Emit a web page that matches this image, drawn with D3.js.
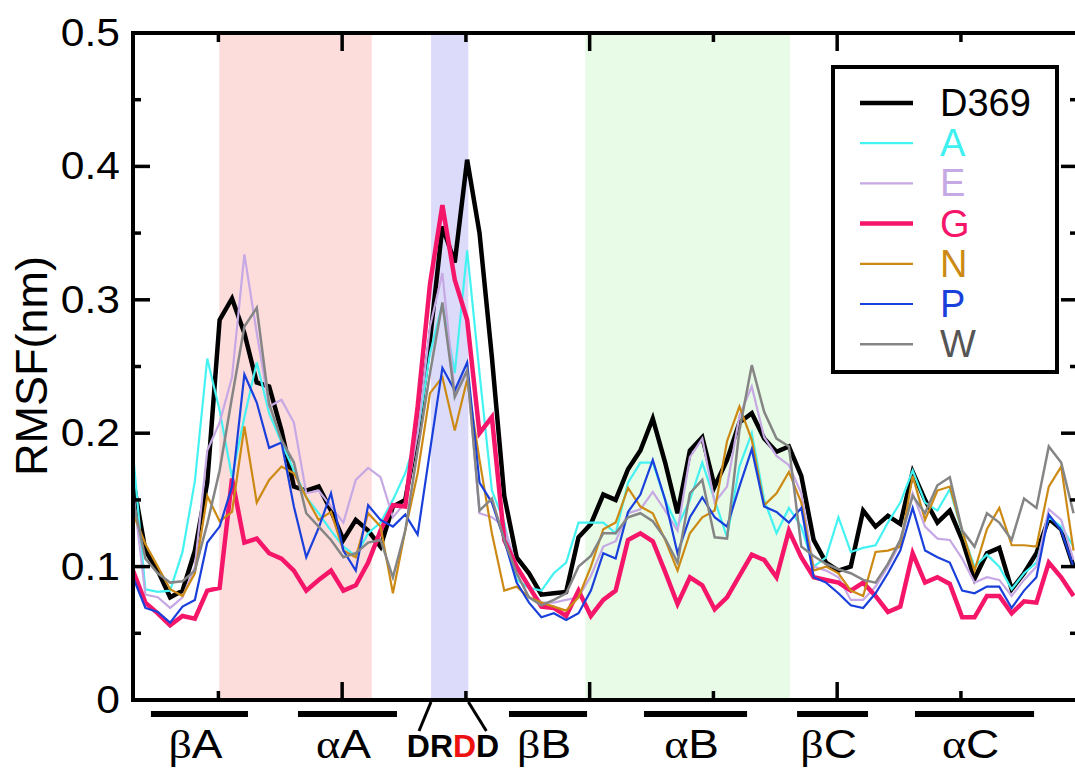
<!DOCTYPE html>
<html>
<head>
  <meta charset="utf-8">
  <title>RMSF per residue</title>
  <style>
    body { margin: 0; background: white; font-family: "Liberation Sans", Arial, sans-serif; }
    #chart { width: 1075px; height: 769px; }
    .series { fill: none; stroke-linejoin: miter; }
    .axis-line { stroke: black; stroke-width: 4; fill: none; }
    .tick-mark { stroke: black; stroke-width: 3.5; }
    .tick-label { font-size: 38px; fill: black; }
    .ss-bar { stroke: black; stroke-width: 6; }
    .ss-label { font-size: 40px; fill: black; }
    .greek { font-family: "Liberation Serif", serif; }
    .legend-text { font-size: 38px; }
  </style>
</head>
<body>
<div id="chart"></div>
<script src="https://d3js.org/d3.v7.min.js"></script>
<script>

// ####### DATA (RMSF in nm, one value per residue) #######
var seriesNames = ["D369", "A", "E", "G", "N", "P", "W"]

var rmsfD369 = [0.165, 0.112, 0.097, 0.077, 0.082, 0.112, 0.163, 0.285, 0.301, 0.275,
  0.238, 0.235, 0.202, 0.16, 0.157, 0.16, 0.142, 0.12, 0.135, 0.127,
  0.115, 0.145, 0.15, 0.2, 0.27, 0.355, 0.328, 0.405, 0.35, 0.257,
  0.153, 0.107, 0.095, 0.079, 0.08, 0.081, 0.122, 0.132, 0.154, 0.15,
  0.173, 0.187, 0.211, 0.178, 0.14, 0.187, 0.197, 0.16, 0.18, 0.208,
  0.215, 0.196, 0.186, 0.19, 0.168, 0.12, 0.103, 0.097, 0.1, 0.142,
  0.13, 0.138, 0.132, 0.171, 0.15, 0.133, 0.142, 0.12, 0.091, 0.11,
  0.114, 0.083, 0.095, 0.11, 0.136, 0.128, 0.1]

var rmsfA = [0.185, 0.083, 0.081, 0.082, 0.111, 0.164, 0.256, 0.217, 0.167, 0.212,
  0.253, 0.215, 0.193, 0.172, 0.152, 0.14, 0.127, 0.115, 0.108, 0.125,
  0.133, 0.15, 0.17, 0.2, 0.26, 0.297, 0.245, 0.337, 0.245, 0.157,
  0.133, 0.09, 0.084, 0.082, 0.095, 0.103, 0.133, 0.133, 0.133, 0.125,
  0.163, 0.178, 0.178, 0.15, 0.13, 0.15, 0.178, 0.15, 0.122, 0.175,
  0.2, 0.15, 0.125, 0.144, 0.13, 0.1, 0.107, 0.137, 0.111, 0.114,
  0.116, 0.133, 0.148, 0.172, 0.148, 0.142, 0.158, 0.126, 0.1, 0.109,
  0.1, 0.083, 0.095, 0.103, 0.137, 0.13, 0.115]

var rmsfE = [0.157, 0.079, 0.077, 0.069, 0.077, 0.1, 0.187, 0.208, 0.242, 0.334,
  0.275, 0.22, 0.225, 0.208, 0.155, 0.157, 0.145, 0.133, 0.165, 0.174,
  0.167, 0.137, 0.148, 0.2, 0.28, 0.32, 0.23, 0.247, 0.14, 0.137,
  0.13, 0.1, 0.085, 0.073, 0.073, 0.075, 0.077, 0.093, 0.115, 0.119,
  0.14, 0.143, 0.156, 0.142, 0.127, 0.182, 0.196, 0.148, 0.16, 0.213,
  0.235, 0.197, 0.183, 0.176, 0.155, 0.1, 0.097, 0.092, 0.075, 0.075,
  0.085, 0.1, 0.118, 0.155, 0.13, 0.121, 0.12, 0.106, 0.088, 0.092,
  0.09, 0.078, 0.09, 0.1, 0.143, 0.135, 0.105]

var rmsfG = [0.097, 0.073, 0.065, 0.056, 0.063, 0.061, 0.082, 0.084, 0.166, 0.118,
  0.121, 0.11, 0.106, 0.097, 0.082, 0.09, 0.097, 0.082, 0.086, 0.103,
  0.127, 0.146, 0.145, 0.22, 0.312, 0.371, 0.315, 0.285, 0.2, 0.212,
  0.12, 0.1, 0.085, 0.07, 0.069, 0.063, 0.082, 0.063, 0.075, 0.082,
  0.12, 0.125, 0.119, 0.096, 0.072, 0.092, 0.086, 0.068, 0.077, 0.093,
  0.109, 0.105, 0.092, 0.127, 0.107, 0.092, 0.09, 0.088, 0.082, 0.088,
  0.078, 0.066, 0.07, 0.11, 0.088, 0.092, 0.087, 0.062, 0.062, 0.078,
  0.078, 0.065, 0.074, 0.073, 0.103, 0.092, 0.078]

var rmsfN = [0.14, 0.117, 0.1, 0.083, 0.078, 0.095, 0.153, 0.134, 0.141, 0.205,
  0.148, 0.165, 0.175, 0.17, 0.152, 0.135, 0.141, 0.112, 0.107, 0.14,
  0.13, 0.08, 0.127, 0.17, 0.23, 0.242, 0.202, 0.24, 0.18, 0.125,
  0.082, 0.085, 0.077, 0.073, 0.07, 0.067, 0.077, 0.1, 0.128, 0.133,
  0.159, 0.145, 0.14, 0.12, 0.097, 0.125, 0.137, 0.142, 0.194, 0.22,
  0.195, 0.146, 0.155, 0.171, 0.148, 0.097, 0.1, 0.095, 0.082, 0.078,
  0.111, 0.112, 0.115, 0.168, 0.135, 0.157, 0.16, 0.127, 0.097, 0.128,
  0.144, 0.116, 0.116, 0.115, 0.16, 0.175, 0.112]

var rmsfP = [0.092, 0.069, 0.066, 0.058, 0.07, 0.075, 0.118, 0.13, 0.16, 0.244,
  0.223, 0.189, 0.193, 0.145, 0.107, 0.129, 0.155, 0.112, 0.097, 0.146,
  0.135, 0.13, 0.139, 0.124, 0.187, 0.249, 0.232, 0.253, 0.163, 0.148,
  0.12, 0.088, 0.073, 0.062, 0.065, 0.06, 0.065, 0.082, 0.11, 0.106,
  0.141, 0.154, 0.18, 0.15, 0.11, 0.137, 0.152, 0.137, 0.13, 0.16,
  0.188, 0.145, 0.141, 0.133, 0.144, 0.092, 0.088, 0.08, 0.071, 0.069,
  0.08, 0.095, 0.112, 0.144, 0.112, 0.107, 0.103, 0.082, 0.08, 0.085,
  0.085, 0.069, 0.082, 0.092, 0.139, 0.127, 0.1]

var rmsfW = [0.15, 0.106, 0.095, 0.088, 0.089, 0.097, 0.132, 0.172, 0.227, 0.28,
  0.294, 0.222, 0.195, 0.178, 0.14, 0.13, 0.12, 0.107, 0.11, 0.118,
  0.12, 0.092, 0.127, 0.187, 0.245, 0.298, 0.227, 0.247, 0.142, 0.151,
  0.12, 0.095, 0.077, 0.071, 0.075, 0.08, 0.1, 0.108, 0.125, 0.125,
  0.137, 0.14, 0.134, 0.121, 0.103, 0.155, 0.165, 0.122, 0.121, 0.202,
  0.251, 0.216, 0.196, 0.19, 0.115, 0.108, 0.102, 0.098, 0.095, 0.09,
  0.088, 0.102, 0.12, 0.153, 0.14, 0.161, 0.167, 0.127, 0.115, 0.14,
  0.133, 0.12, 0.151, 0.144, 0.19, 0.178, 0.14]

// ####### AXIS TICKS (x in residue-index units from the first plotted residue) #######
var yMajorTicks = [0, 0.1, 0.2, 0.3, 0.4, 0.5]
var yTickLabels = ["0", "0.1", "0.2", "0.3", "0.4", "0.5"]
var yMinorTicks = [0.05, 0.15, 0.25, 0.35, 0.45]
var xMinorTicks = [6.9, 26.9, 46.9, 66.9]
var xMajorTicks = [16.9, 36.9, 56.9]

// ####### SHADED REGIONS & SECONDARY STRUCTURE (residue-index units) #######
var shadeStart = [6.97, 24.08, 36.55]
var shadeEnd = [19.29, 27.1, 53.09]
var ssNames = ["βA", "αA", "βB", "αB", "βC", "αC"]
var ssStart = [1.45, 13.33, 30.38, 41.29, 53.66, 63.19]
var ssEnd = [9.29, 21.33, 36.69, 49.62, 59.39, 72.81]
var motifLetters = ["D", "R", "D", "D"]

// ####### STYLES #######
var seriesColors = ["#000000", "#44f2f2", "#c6a8e4", "#f5166a", "#cc8a14", "#1a40dc", "#858585"]
var legendTextColors = ["#000000", "#3ff0f0", "#c6a8e4", "#f5166a", "#cc8a14", "#1a40dc", "#555555"]
var seriesWidths = [4.5, 2.2, 2.2, 4.5, 2.2, 2.2, 2.5]
var shadeColors = ["#fddcdc", "#dcdcfa", "#e8fbe6"]
var motifColors = ["black", "black", "#ee1111", "black"]

var seriesValues = [rmsfD369, rmsfA, rmsfE, rmsfG, rmsfN, rmsfP, rmsfW]

// ####### PLOT BOX (pixels) #######
var width = 1075, height = 769
var plotLeft = 133, plotRight = 1078, plotTop = 33, plotBottom = 700

var svg = d3.select("#chart").append("svg")
    .attr("width", width)
    .attr("height", height)

var x = d3.scaleLinear().domain([0, 76.36]).range([plotLeft, plotRight])
var y = d3.scaleLinear().domain([0, 0.5]).range([plotBottom, plotTop])

svg.append("clipPath").attr("id", "plot-clip")
  .append("rect")
    .attr("x", plotLeft).attr("y", plotTop)
    .attr("width", plotRight - plotLeft).attr("height", plotBottom - plotTop)

var plot = svg.append("g").attr("clip-path", "url(#plot-clip)")

// ####### SHADED BANDS #######
plot.selectAll("rect.shade")
  .data(shadeStart)
  .enter().append("rect")
    .attr("class", "shade")
    .attr("x", function (d) { return x(d) })
    .attr("width", function (d, i) { return x(shadeEnd[i]) - x(d) })
    .attr("y", plotTop)
    .attr("height", plotBottom - plotTop)
    .attr("fill", function (d, i) { return shadeColors[i] })

// ####### RMSF LINES #######
var line = d3.line()
    .x(function (d, i) { return x(i) })
    .y(function (d) { return y(d) })

plot.selectAll("path.series")
  .data(seriesValues)
  .enter().append("path")
    .attr("class", "series")
    .attr("d", line)
    .attr("stroke", function (d, i) { return seriesColors[i] })
    .attr("stroke-width", function (d, i) { return seriesWidths[i] })

// ####### FRAME #######
svg.append("path")
    .attr("class", "axis-line")
    .attr("d", "M" + (plotRight + 2) + "," + plotTop + "H" + plotLeft + "V" + plotBottom + "H" + (plotRight + 2))
svg.append("line")
    .attr("class", "axis-line")
    .attr("x1", plotRight).attr("x2", plotRight)
    .attr("y1", plotTop).attr("y2", plotBottom)

// ####### Y TICKS (inward on both sides) #######
function yTicks(values, len) {
  values.forEach(function (v) {
    svg.append("line").attr("class", "tick-mark")
      .attr("x1", plotLeft).attr("x2", plotLeft + len)
      .attr("y1", y(v)).attr("y2", y(v))
    svg.append("line").attr("class", "tick-mark")
      .attr("x1", plotRight).attr("x2", plotRight - len)
      .attr("y1", y(v)).attr("y2", y(v))
  })
}
yTicks(yMajorTicks, 17)
yTicks(yMinorTicks, 8)

svg.selectAll("text.tick-label")
  .data(yMajorTicks)
  .enter().append("text")
    .attr("class", "tick-label")
    .attr("text-anchor", "end")
    .attr("transform", function (d) { return "translate(120," + (y(d) + 13) + ") scale(1.12,1)" })
    .text(function (d, i) { return yTickLabels[i] })

// ####### X TICKS (inward on top and bottom) #######
function xTicks(values, len) {
  values.forEach(function (v) {
    svg.append("line").attr("class", "tick-mark")
      .attr("x1", x(v)).attr("x2", x(v))
      .attr("y1", plotBottom).attr("y2", plotBottom - len)
    svg.append("line").attr("class", "tick-mark")
      .attr("x1", x(v)).attr("x2", x(v))
      .attr("y1", plotTop).attr("y2", plotTop + len)
  })
}
xTicks(xMajorTicks, 18)
xTicks(xMinorTicks, 9)

// ####### Y AXIS TITLE #######
svg.append("text")
    .attr("transform", "translate(47,366) rotate(-90)")
    .attr("text-anchor", "middle")
    .style("font-size", "45px")
    .text("RMSF(nm)")

// ####### SECONDARY STRUCTURE BARS #######
svg.selectAll("line.ss-bar")
  .data(ssStart)
  .enter().append("line")
    .attr("class", "ss-bar")
    .attr("x1", function (d) { return x(d) })
    .attr("x2", function (d, i) { return x(ssEnd[i]) })
    .attr("y1", 714).attr("y2", 714)

var ssLabels = svg.selectAll("text.ss-label")
  .data(ssNames)
  .enter().append("text")
    .attr("class", "ss-label")
    .attr("text-anchor", "middle")
    .attr("transform", function (d, i) {
      return "translate(" + (x((ssStart[i] + ssEnd[i]) / 2) - 4) + ",758) scale(1.15,1)"
    })
ssLabels.append("tspan").attr("class", "greek").text(function (d) { return d.charAt(0) })
ssLabels.append("tspan").text(function (d) { return d.slice(1) })

// ####### DRDD MOTIF UNDER THE BLUE BAND #######
svg.append("line").attr("class", "tick-mark").style("stroke-width", 3)
    .attr("x1", x(shadeStart[1])).attr("y1", plotBottom + 2)
    .attr("x2", x(shadeStart[1]) - 12).attr("y2", 731)
svg.append("line").attr("class", "tick-mark").style("stroke-width", 3)
    .attr("x1", x(shadeEnd[1])).attr("y1", plotBottom + 2)
    .attr("x2", x(shadeEnd[1]) + 18).attr("y2", 731)

var motif = svg.append("text")
    .attr("x", 453).attr("y", 757)
    .attr("text-anchor", "middle")
    .style("font-size", "32px")
    .style("font-weight", "bold")
motif.selectAll("tspan")
  .data(motifLetters)
  .enter().append("tspan")
    .attr("fill", function (d, i) { return motifColors[i] })
    .text(function (d) { return d })

// ####### LEGEND #######
var legend = svg.append("g").attr("transform", "translate(833,67)")
legend.append("rect")
    .attr("width", 224).attr("height", 305)
    .attr("fill", "white")
    .attr("stroke", "black").attr("stroke-width", 4)

var rows = legend.selectAll("g.row")
  .data(seriesNames)
  .enter().append("g")
    .attr("class", "row")
    .attr("transform", function (d, i) { return "translate(0," + (36 + i * 40.2) + ")" })

rows.append("line")
    .attr("x1", 27).attr("x2", 80)
    .attr("stroke", function (d, i) { return seriesColors[i] })
    .attr("stroke-width", function (d, i) { return seriesWidths[i] })

rows.append("text")
    .attr("class", "legend-text")
    .attr("x", 107).attr("y", 13)
    .attr("transform", "scale(1,1)")
    .attr("fill", function (d, i) { return legendTextColors[i] })
    .text(function (d) { return d })

</script>
</body>
</html>
